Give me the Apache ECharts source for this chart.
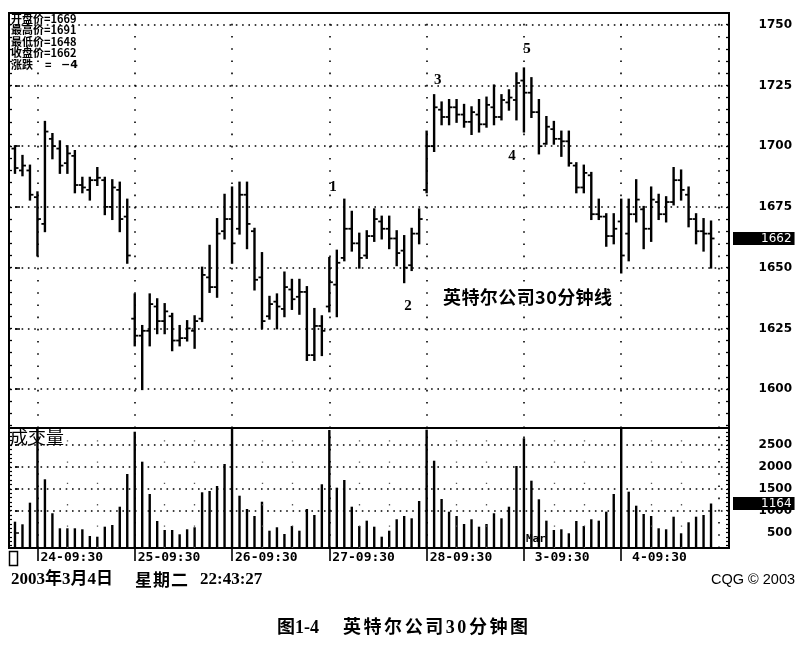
<!DOCTYPE html>
<html><head><meta charset="utf-8">
<script src="https://cdn.jsdelivr.net/npm/echarts@6/dist/echarts.min.js"></script>
<style>html,body{margin:0;padding:0;background:#fff}#c{width:811px;height:649px}</style>
</head><body><div id="c"></div>
<script>
// ---- data (Intel 30-minute bars, prices in cents) ----
const opens  = [1699,1690,1690,1679,1668,1703,1699,1693,1696,1684,1682,1686,1686,1675,1682,1671,
  1629,1622,1624,1634,1628,1630,1620,1621,1624,1629,1646,1642,1665,
  1670,1666,1680,1665,1646,1630,1636,1633,1641,1638,1640,1614,1626,
  1634,1643,1654,1666,1660,1655,1663,1669,1666,1662,1657,1651,1664,
  1682,1700,1715,1712,1716,1713,1710,1713,1709,1716,1712,1718,1719,
  1727,1722,1714,1701,1707,1703,1702,1692,1683,1688,1672,1671,1663,
  1669,1664,1672,1674,1666,1677,1672,1677,1686,1680,1670,1665,1664];
const highs  = [1700,1696,1692,1681,1710,1705,1702,1700,1698,1687,1687,1691,1687,1686,1685,1678,
  1639,1626,1639,1637,1635,1631,1626,1628,1630,1650,1659,1670,1680,
  1683,1685,1685,1666,1656,1638,1639,1648,1645,1645,1642,1633,1630,
  1654,1657,1678,1673,1664,1665,1674,1671,1671,1665,1663,1666,1674,
  1706,1721,1718,1719,1719,1717,1716,1719,1720,1725,1721,1723,1730,
  1732,1728,1719,1712,1710,1706,1706,1693,1692,1689,1678,1672,1672,
  1678,1678,1686,1675,1683,1680,1679,1691,1690,1683,1672,1670,1669];
const lows   = [1689,1688,1678,1655,1665,1695,1689,1689,1681,1681,1678,1684,1672,1670,1665,1652,
  1618,1600,1618,1623,1623,1616,1618,1620,1617,1628,1640,1638,1662,
  1652,1664,1658,1641,1625,1629,1625,1630,1633,1631,1612,1612,1614,
  1632,1630,1653,1657,1650,1654,1661,1662,1658,1651,1644,1649,1660,
  1681,1698,1709,1709,1710,1708,1705,1706,1708,1709,1711,1715,1711,
  1706,1712,1697,1701,1701,1696,1692,1681,1681,1670,1670,1659,1660,
  1648,1653,1669,1658,1661,1670,1669,1676,1678,1667,1660,1657,1650];
const closes = [1691,1692,1680,1670,1706,1700,1692,1697,1684,1683,1686,1687,1675,1683,1670,1655,
  1622,1624,1635,1628,1632,1620,1621,1625,1628,1647,1642,1664,1670,
  1660,1680,1668,1645,1628,1635,1634,1642,1637,1640,1614,1626,1624,
  1644,1652,1666,1660,1654,1663,1670,1666,1662,1656,1650,1664,1670,
  1700,1716,1712,1716,1713,1710,1714,1709,1717,1712,1719,1720,1726,
  1722,1714,1700,1708,1703,1702,1693,1683,1689,1672,1671,1663,1666,
  1655,1672,1678,1666,1678,1672,1677,1686,1682,1670,1665,1664,1662];
const volumes = [749,689,1183,2900,1717,941,598,598,598,575,422,406,635,673,1091,1838,
  2803,2119,1381,765,559,559,461,575,621,1420,1450,1564,2066,
  2900,1342,1039,879,1205,543,621,468,651,543,1039,902,1603,
  2842,1525,1701,1091,651,772,635,406,543,804,879,826,1221,
  2850,2141,1267,977,879,696,804,635,696,941,826,1091,2020,
  2653,1685,1260,772,559,575,484,765,651,804,772,977,1381,
  2900,1434,1114,925,879,598,575,863,484,735,863,902,1164];
const dayStarts = [3,16,29,42,55,68,81];
const dayLabels = ['24-09:30','25-09:30','26-09:30','27-09:30','28-09:30',' 3-09:30',' 4-09:30'];
const dayLines = [3,16,29,42,55,68,81,94];
const priceTicks = [1600,1625,1650,1675,1700,1725,1750];
const volTicks = [500,1000,1500,2000,2500];
const volGridLines = [1000,1500,2000,2500];
const infoNames = ['开盘价','最高价','最低价','收盘价'];
const infoValues = [1669,1691,1648,1662];
const changeName = '涨跌';
const changeValue = -4;
const lastPrice = 1662;
const lastVolume = 1164;
const annotations = [['1',42.5,1683],['2',52.5,1634],['3',56.5,1727],['4',66.4,1696],['5',68.4,1740]];

// ---- build ----
const ohlc = opens.map((o,i)=>[i,o,highs[i],lows[i],closes[i]]);
const vol = volumes.map((v,i)=>[i,v]);
const midLines = dayStarts.flatMap(d=>[d+4,d+8]);
const minorP=[]; for(let v=1585; v<=1750; v+=5) minorP.push(v);
const minorV=[]; for(let v=200; v<=2800; v+=100) minorV.push(v);
const X_MIN=-0.8, X_MAX=95.4, P_MIN=1584, P_MAX=1754.8, V_MIN=148, V_MAX=2888;
const hDot = {color:'#000', width:1.6, type:[1.6,4.7]};
const vDot = {color:'#000', width:1.6, type:[1.6,10.6]};
const noComma = v => String(Math.round(v));

// text spread to a target width (character by character)
const mctx = document.createElement('canvas').getContext('2d');
function spread(str, x, yTop, font, width){
  mctx.font = font;
  const chars = [...str];
  const ws = chars.map(ch=>mctx.measureText(ch).width);
  const tot = ws.reduce((a,b)=>a+b,0);
  const gap = chars.length>1 ? (width - tot)/(chars.length-1) : 0;
  let cx = x; const out=[];
  chars.forEach((ch,k)=>{ out.push({type:'text', x:cx, y:yTop, z:100, style:{text:ch, fill:'#000', font:font}}); cx += ws[k]+gap; });
  return out;
}

const chart = echarts.init(document.getElementById('c'), null, {renderer:'canvas'});
const hideAxis = {axisLine:{show:false}, splitLine:{show:false}};
const markLabel = (txt)=>({show:true, position:'end', distance:4, formatter:txt, backgroundColor:'#000',
  color:'#fff', padding:[1,3,0,28], fontFamily:'DejaVu Sans', fontSize:12});
const option = {
  animation:false,
  backgroundColor:'#fff',
  grid:[
    {left:9, top:13, width:720, height:415, show:true, borderColor:'#000', borderWidth:2},
    {left:9, top:428, width:720, height:120, show:true, borderColor:'#000', borderWidth:2}
  ],
  xAxis:[
    Object.assign({type:'value', gridIndex:0, min:X_MIN, max:X_MAX, axisTick:{show:false}, axisLabel:{show:false}}, hideAxis),
    Object.assign({type:'value', gridIndex:1, min:X_MIN, max:X_MAX,
      axisTick:{show:true, customValues:dayStarts, length:13, lineStyle:{color:'#000', width:1.6}},
      axisLabel:{show:true, customValues:dayStarts, formatter:v=>dayLabels[dayStarts.indexOf(Math.round(v))],
        align:'left', margin:3, padding:[0,0,0,3], color:'#000', fontFamily:'DejaVu Sans Mono', fontWeight:'bold', fontSize:13}}, hideAxis)
  ],
  yAxis:[
    Object.assign({type:'value', gridIndex:0, position:'right', min:P_MIN, max:P_MAX,
      axisTick:{show:true, customValues:priceTicks, length:5, lineStyle:{color:'#000', width:1.5}},
      axisLabel:{show:true, customValues:priceTicks, formatter:noComma, align:'right', margin:63, padding:[0,0,5,0], color:'#000',
        fontFamily:'DejaVu Sans', fontWeight:'bold', fontSize:12}}, hideAxis),
    Object.assign({type:'value', gridIndex:0, position:'left', min:P_MIN, max:P_MAX,
      axisTick:{show:true, inside:true, customValues:minorP, length:3, lineStyle:{color:'#000', width:1.3}},
      axisLabel:{show:false}}, hideAxis),
    Object.assign({type:'value', gridIndex:0, position:'right', min:P_MIN, max:P_MAX,
      axisTick:{show:true, inside:true, customValues:minorP, length:3, lineStyle:{color:'#000', width:1.3}},
      axisLabel:{show:false}}, hideAxis),
    Object.assign({type:'value', gridIndex:1, position:'right', min:V_MIN, max:V_MAX,
      axisTick:{show:true, customValues:volTicks, length:4, lineStyle:{color:'#000', width:1.5}},
      axisLabel:{show:true, customValues:volTicks, formatter:noComma, align:'right', margin:63, padding:[0,0,3,0], color:'#000',
        fontFamily:'DejaVu Sans', fontWeight:'bold', fontSize:12}}, hideAxis),
    Object.assign({type:'value', gridIndex:1, position:'left', min:V_MIN, max:V_MAX,
      axisTick:{show:true, inside:true, customValues:minorV, length:3, lineStyle:{color:'#000', width:1.2}},
      axisLabel:{show:false}}, hideAxis),
    Object.assign({type:'value', gridIndex:1, position:'right', min:V_MIN, max:V_MAX,
      axisTick:{show:true, inside:true, customValues:minorV, length:3, lineStyle:{color:'#000', width:1.2}},
      axisLabel:{show:false}}, hideAxis)
  ],
  series:[
    {
      type:'custom', name:'price', xAxisIndex:0, yAxisIndex:0, data:ohlc, clip:true,
      encode:{x:0, y:[1,2,3,4]},
      renderItem:(params, api)=>{
        const x = api.value(0);
        const o = api.coord([x, api.value(1)]);
        const h = api.coord([x, api.value(2)]);
        const l = api.coord([x, api.value(3)]);
        const c = api.coord([x, api.value(4)]);
        return {type:'group', children:[
          {type:'line', shape:{x1:h[0], y1:h[1]-1, x2:l[0], y2:l[1]+1}, style:{stroke:'#000', lineWidth:2.4}},
          {type:'line', shape:{x1:o[0]-3.5, y1:o[1], x2:o[0], y2:o[1]}, style:{stroke:'#000', lineWidth:1.8}},
          {type:'line', shape:{x1:c[0], y1:c[1], x2:c[0]+3.5, y2:c[1]}, style:{stroke:'#000', lineWidth:1.8}}
        ]};
      },
      markLine:{
        silent:true, symbol:['none','none'], animation:false, label:{show:false},
        data: priceTicks.map(v=>({yAxis:v, lineStyle:hDot}))
          .concat(dayLines.map(d=>({xAxis:d, lineStyle:vDot})))
          .concat([{yAxis:lastPrice, lineStyle:{color:'rgba(0,0,0,0)', width:0}, label:markLabel(String(lastPrice))}])
      }
    },
    {
      type:'bar', name:'volume', xAxisIndex:1, yAxisIndex:3, data:vol, barWidth:2.4,
      itemStyle:{color:'#000'}, clip:true,
      markLine:{
        silent:true, symbol:['none','none'], animation:false, label:{show:false},
        data: volGridLines.map(v=>({yAxis:v, lineStyle:hDot}))
          .concat(dayLines.map(d=>({xAxis:d, lineStyle:vDot})))
          .concat(midLines.map(d=>({xAxis:d, lineStyle:{color:'#555', width:1.3, type:[1.3,20]}})))
          .concat([{yAxis:lastVolume, lineStyle:{color:'rgba(0,0,0,0)', width:0}, label:markLabel(String(lastVolume))}])
      }
    },
    {
      type:'scatter', name:'waves', xAxisIndex:0, yAxisIndex:0, symbolSize:2, itemStyle:{color:'rgba(0,0,0,0)'},
      data: annotations.map(a=>[a[1],a[2],a[0]]),
      label:{show:true, position:'inside', formatter:p=>p.data[2], color:'#000', opacity:1,
        fontFamily:'Liberation Serif', fontWeight:'bold', fontSize:15}
    }
  ],
  graphic:[
    ...infoNames.map((t,k)=>({type:'text', x:11, y:13+k*11.6, z:100,
      style:{text:t+'='+infoValues[k], fill:'#000', font:'bold 11px "Noto Sans CJK SC"'}})),
    {type:'text', x:11, y:13+4*11.6, z:100, style:{text:changeName, fill:'#000', font:'bold 11px "Noto Sans CJK SC"'}},
    {type:'text', x:45, y:13+4*11.6, z:100, style:{text:'=', fill:'#000', font:'bold 11px "Noto Sans CJK SC"'}},
    {type:'text', x:61, y:13+4*11.6, z:100, style:{text:(changeValue<0?'\u2212':'')+Math.abs(changeValue), fill:'#000', font:'bold 11px "DejaVu Sans"'}},
    {type:'text', x:10, y:428, z:100, style:{text:'成交量', fill:'#000', font:'18px "Noto Sans CJK SC"'}},
    ...spread('英特尔公司30分钟线', 443, 288, 'bold 18px "Noto Sans CJK SC"', 169),
    {type:'text', x:526, y:534, z:100, style:{text:'Mar', fill:'#000', font:'bold 11px "DejaVu Sans Mono"'}},
    {type:'rect', shape:{x:9.5, y:551.5, width:8, height:14}, style:{fill:'none', stroke:'#000', lineWidth:1.5}},
    ...spread('2003年3月4日', 11, 571, 'bold 17px "Liberation Serif", "Noto Sans CJK SC"', 102),
    ...spread('星期二', 135, 571, 'bold 17px "Noto Sans CJK SC"', 53),
    {type:'text', x:200, y:571, z:100, style:{text:'22:43:27', fill:'#000', font:'bold 17px "Liberation Serif"'}},
    {type:'text', x:711, y:572, z:100, style:{text:'CQG © 2003', fill:'#000', font:'14.5px "Liberation Sans"'}},
    {type:'text', x:277, y:619, z:100, style:{text:'图1-4', fill:'#000', font:'bold 18px "Liberation Serif", "Noto Sans CJK SC"'}},
    ...spread('英特尔公司30分钟图', 343, 619, 'bold 18px "Liberation Serif", "Noto Sans CJK SC"', 185)
  ]
};
chart.setOption(option);
</script></body></html>
